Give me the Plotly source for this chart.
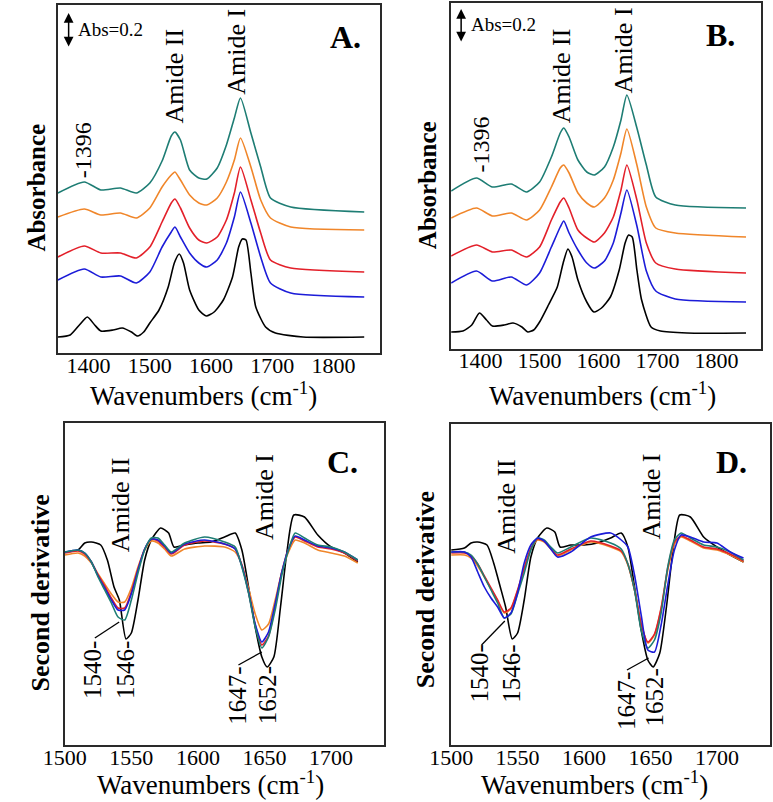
import plotly.graph_objects as go

W, H = 773, 802
FONT = "Liberation Serif"

# ---------------- Panel A / B : absorbance spectra (arbitrary units, stacked) ----------------
wn_black = [1350, 1370, 1385, 1398, 1410, 1420, 1440, 1455, 1470, 1480, 1490, 1500, 1515, 1530, 1540,
            1548, 1555, 1565, 1580, 1592, 1605, 1620, 1635, 1645, 1651, 1657, 1665, 1673, 1689, 1705,
            1750, 1850]
wn_col = [1350, 1393, 1420, 1452, 1478, 1500, 1520, 1535, 1541, 1550, 1565, 1580, 1593, 1610, 1625,
          1638, 1648, 1665, 1681, 1697, 1730, 1850]

A_black = [16, 18, 28, 36, 28, 22, 23, 25, 21, 17, 21, 30, 43, 66, 90, 99, 90, 63, 43, 37, 41, 53, 76,
           106, 114, 113, 80, 46, 26, 20, 16, 16]
A_blue = [73, 84, 76, 77, 70, 81, 106, 121, 126, 116, 100, 90, 86, 93, 110, 136, 161, 130, 96, 70, 60, 56]
A_red = [96, 107, 100, 100, 95, 106, 131, 150, 154, 145, 125, 113, 110, 116, 133, 160, 186, 153, 120, 93, 85, 81]
A_orange = [136, 144, 138, 140, 135, 145, 166, 178, 181, 173, 158, 150, 148, 155, 171, 193, 215, 186, 153,
            135, 126, 123]
A_teal = [160, 171, 163, 165, 160, 170, 192, 217, 221, 213, 183, 175, 174, 185, 208, 235, 255, 220, 186,
          155, 146, 141]

B_black = [17, 18, 24, 36, 29, 23, 24, 26, 22, 17, 19, 27, 44, 62, 86, 100, 92, 69, 47, 37, 41, 52, 79,
           106, 114, 112, 79, 49, 22, 18, 16, 16]
B_blue = [66, 78, 68, 72, 64, 76, 102, 122, 128, 116, 99, 86, 81, 88, 106, 136, 159, 123, 78, 58, 50, 47]
B_red = [93, 104, 97, 99, 92, 102, 129, 147, 151, 141, 119, 111, 107, 116, 132, 159, 184, 149, 106, 86, 80, 76]
B_orange = [131, 141, 133, 136, 129, 139, 162, 181, 184, 176, 156, 146, 142, 151, 169, 196, 220, 184, 142,
            121, 116, 112]
B_teal = [158, 171, 162, 165, 157, 167, 192, 216, 221, 212, 189, 177, 174, 182, 202, 229, 254, 221, 184,
          152, 144, 141]

# ---------------- Panel C / D : second derivative (arbitrary units) ----------------
wn2_black = [1500, 1510, 1515, 1520, 1527, 1532, 1537, 1541, 1546, 1550, 1555, 1560, 1565, 1572, 1578,
             1582, 1590, 1600, 1610, 1620, 1628, 1633, 1638, 1643, 1648, 1652, 1657, 1662, 1667, 1672,
             1680, 1690, 1700, 1710, 1720]
wn2_col = [1500, 1510, 1515, 1520, 1525, 1530, 1535, 1540, 1545, 1550, 1555, 1560, 1565, 1570, 1575, 1580,
           1590, 1605, 1620, 1628, 1633, 1638, 1643, 1648, 1653, 1658, 1663, 1668, 1673, 1680, 1690, 1700,
           1710, 1720]

C_black = [0, 2, 9, 10, 7, -8, -35, -48, -87, -81, -48, -8, 12, 24, 19, 5, 7, 9, 10, 15, 19, 2, -35, -75,
           -105, -115, -105, -55, 2, 37, 35, 17, 5, -1, -10]
C_teal = [0, 2, -1, -10, -25, -38, -51, -65, -68, -48, -21, 2, 14, 14, 7, 0, 9, 15, 10, 5, -15, -41, -75,
          -96, -85, -58, -23, 2, 19, 14, 7, 5, 0, -8]
C_blue = [0, 2, -1, -10, -24, -36, -48, -58, -58, -42, -18, 3, 13, 12, 6, -1, 8, 12, 8, 3, -14, -40, -72,
          -90, -80, -52, -20, 3, 16, 12, 6, 4, 0, -8]
C_red = [-1, 1, -2, -10, -23, -34, -46, -56, -56, -40, -17, 3, 13, 11, 5, -2, 7, 11, 8, 3, -13, -40, -73,
         -93, -84, -54, -20, 3, 15, 11, 5, 3, -1, -9]
C_orange = [-3, -1, -4, -11, -22, -32, -42, -50, -50, -36, -15, 2, 11, 9, 3, -4, 3, 6, 5, 0, -13, -36, -62,
            -78, -72, -48, -20, 0, 12, 9, 2, -1, -4, -11]

D_black = [2, 4, 9, 10, 7, -11, -35, -55, -87, -81, -48, -5, 14, 24, 20, 5, 7, 7, 9, 14, 19, 5, -35, -78,
           -108, -115, -101, -55, 2, 37, 35, 15, 5, -3, -10]
D_blue = [0, 0, -5, -20, -35, -46, -55, -66, -61, -41, -11, 7, 14, 11, 3, -5, 0, 15, 19, 12, 5, -23, -63,
          -98, -100, -73, -33, 2, 17, 15, 10, 9, 0, -6]
D_teal = [0, 0, -3, -12, -25, -38, -51, -66, -62, -42, -21, 2, 14, 12, 5, -1, 5, 14, 9, 3, -12, -38, -78,
          -96, -88, -61, -15, 12, 19, 14, 7, 5, 0, -8]
D_red = [-1, -1, -4, -12, -24, -36, -48, -60, -56, -38, -16, 4, 13, 11, 4, -3, 3, 11, 6, 1, -12, -38, -72,
         -90, -82, -56, -16, 10, 16, 12, 5, 3, -2, -9]
D_orange = [-3, -3, -6, -14, -25, -37, -49, -61, -57, -39, -17, 3, 12, 10, 3, -4, 2, 10, 5, 0, -13, -38,
            -72, -91, -83, -57, -18, 8, 15, 11, 4, 2, -3, -10]

COLORS = {"black": "#000000", "blue": "#1c1cd8", "red": "#e3202a", "orange": "#f0862a", "teal": "#1e7d74"}

ticks_ab = [1400, 1500, 1600, 1700, 1800]
ticks_cd = [1500, 1550, 1600, 1650, 1700]


def px(x):
    return x / W


def py(y):
    return 1 - y / H


fig = go.Figure()


def add(xs, ys, color, ax):
    fig.add_trace(go.Scatter(x=xs, y=ys, mode="lines", xaxis="x" + ax, yaxis="y" + ax,
                             line=dict(color=COLORS[color], width=1.6, shape="spline", smoothing=0.6),
                             hoverinfo="skip", showlegend=False))


for ax, blk, col in [("", A_black, [("blue", A_blue), ("red", A_red), ("orange", A_orange), ("teal", A_teal)]),
                     ("2", B_black, [("blue", B_blue), ("red", B_red), ("orange", B_orange), ("teal", B_teal)])]:
    add(wn_black, blk, "black", ax)
    for c, v in col:
        add(wn_col, v, c, ax)

for ax, blk, col in [("3", C_black, [("orange", C_orange), ("red", C_red), ("blue", C_blue), ("teal", C_teal)]),
                     ("4", D_black, [("orange", D_orange), ("red", D_red), ("teal", D_teal), ("blue", D_blue)])]:
    add(wn2_black, blk, "black", ax)
    for c, v in col:
        add(wn2_col, v, c, ax)

axis_common = dict(showline=True, mirror=True, linecolor="#2a2a2a", linewidth=1.6, showgrid=False,
                   zeroline=False, ticks="", fixedrange=True)
xfont = dict(family=FONT, size=22, color="black")
SO = -8

layout = dict(
    width=W, height=H, margin=dict(l=0, r=0, t=0, b=0), plot_bgcolor="white", paper_bgcolor="white",
    font=dict(family=FONT, color="black"),
    xaxis=dict(domain=[px(37), px(368)], range=[1350, 1875], anchor="y", tickvals=ticks_ab,
               tickfont=xfont, ticklabelstandoff=SO, **axis_common),
    yaxis=dict(domain=[py(353), py(5)], range=[0, 348], anchor="x", showticklabels=False, **axis_common),
    xaxis2=dict(domain=[px(441.7), px(761)], range=[1350, 1876], anchor="y2", tickvals=ticks_ab,
                tickfont=xfont, ticklabelstandoff=SO - 1, **axis_common),
    yaxis2=dict(domain=[py(349), py(3)], range=[0, 346], anchor="x2", showticklabels=False, **axis_common),
    xaxis3=dict(domain=[px(44), px(373)], range=[1500, 1740], anchor="y3", tickvals=ticks_cd,
                tickfont=xfont, ticklabelstandoff=SO, **axis_common),
    yaxis3=dict(domain=[py(745), py(423)], range=[-193, 129], anchor="x3", showticklabels=False, **axis_common),
    xaxis4=dict(domain=[px(441.7), px(770)], range=[1500, 1740], anchor="y4", tickvals=ticks_cd,
                tickfont=xfont, ticklabelstandoff=SO, **axis_common),
    yaxis4=dict(domain=[py(745), py(424)], range=[-193, 128], anchor="x4", showticklabels=False, **axis_common),
)
fig.update_layout(**layout)

ann = []


def txt(x, y, s, size, angle=0, bold=False):
    t = "<b>%s</b>" % s if bold else s
    ann.append(dict(x=px(x), y=py(y), xref="paper", yref="paper", text=t, showarrow=False,
                    textangle=angle, xanchor="center", yanchor="middle",
                    font=dict(family=FONT, size=size, color="black")))


XT = "Wavenumbers (cm<sup>-1</sup>)"
# Panel A
txt(333, 37, "A.", 32, bold=True)
txt(91, 29, "Abs=0.2", 19)
txt(63, 150, "-1396", 24, -90)
txt(157, 76, "Amide II", 26, -90)
txt(221, 52, "Amide I", 26, -90)
txt(14, 188, "Absorbance", 25, -90, bold=True)
txt(187, 394, XT, 27)
# Panel B
txt(719, 35, "B.", 32, bold=True)
txt(496, 24, "Abs=0.2", 19)
txt(472, 145, "-1396", 24, -90)
txt(556, 76, "Amide II", 26, -90)
txt(619, 50, "Amide I", 26, -90)
txt(417, 185, "Absorbance", 25, -90, bold=True)
txt(597, 394, XT, 27)
# Panel C
txt(330, 462, "C.", 32, bold=True)
txt(101, 505, "Amide II", 26, -90)
txt(249, 497, "Amide I", 26, -90)
txt(19, 593, "Second derivative", 26, -90, bold=True)
txt(72, 670, "1540-", 25, -90)
txt(106, 670, "1546-", 25, -90)
txt(221, 696, "1647-", 25, -90)
txt(252.5, 695, "1652-", 25, -90)
txt(194, 783, XT, 27)
# Panel D
txt(730, 462, "D.", 32, bold=True)
txt(498, 506, "Amide II", 26, -90)
txt(647, 497, "Amide I", 26, -90)
txt(415, 590, "Second derivative", 26, -90, bold=True)
txt(470, 674, "1540-", 25, -90)
txt(503, 674, "1546-", 25, -90)
txt(621.7, 701, "1647-", 25, -90)
txt(650, 698, "1652-", 25, -90)
txt(589, 783, XT, 27)

# double-headed "Abs=0.2" scale arrows
for (x, y0, y1) in [(48, 13, 48), (452, 9, 43)]:
    ann.append(dict(x=px(x), y=py(y0), xref="paper", yref="paper", ax=0, ay=(y1 - y0),
                    text="", showarrow=True, arrowhead=2, startarrowhead=2, arrowside="end+start",
                    arrowsize=1.3, startarrowsize=1.3, arrowwidth=1.5, arrowcolor="black",
                    standoff=0, startstandoff=0))
fig.update_layout(annotations=ann)

# leader lines from peak labels to the minima (data coordinates)
leaders = [("x3", "y3", 1522.6, -86, 1540.9, -70), ("x3", "y3", 1630.4, -113, 1648, -100),
           ("x4", "y4", 1522.9, -93, 1540.4, -69), ("x4", "y4", 1632.3, -118, 1648.6, -106)]
for xr, yr, x0, y0, x1, y1 in leaders:
    fig.add_shape(type="line", xref=xr, yref=yr, x0=x0, y0=y0, x1=x1, y1=y1,
                  line=dict(color="black", width=1.3))

fig.write_html("out.html", config={"displayModeBar": False},
               post_script="document.body.style.margin='0';document.body.style.padding='0';")
